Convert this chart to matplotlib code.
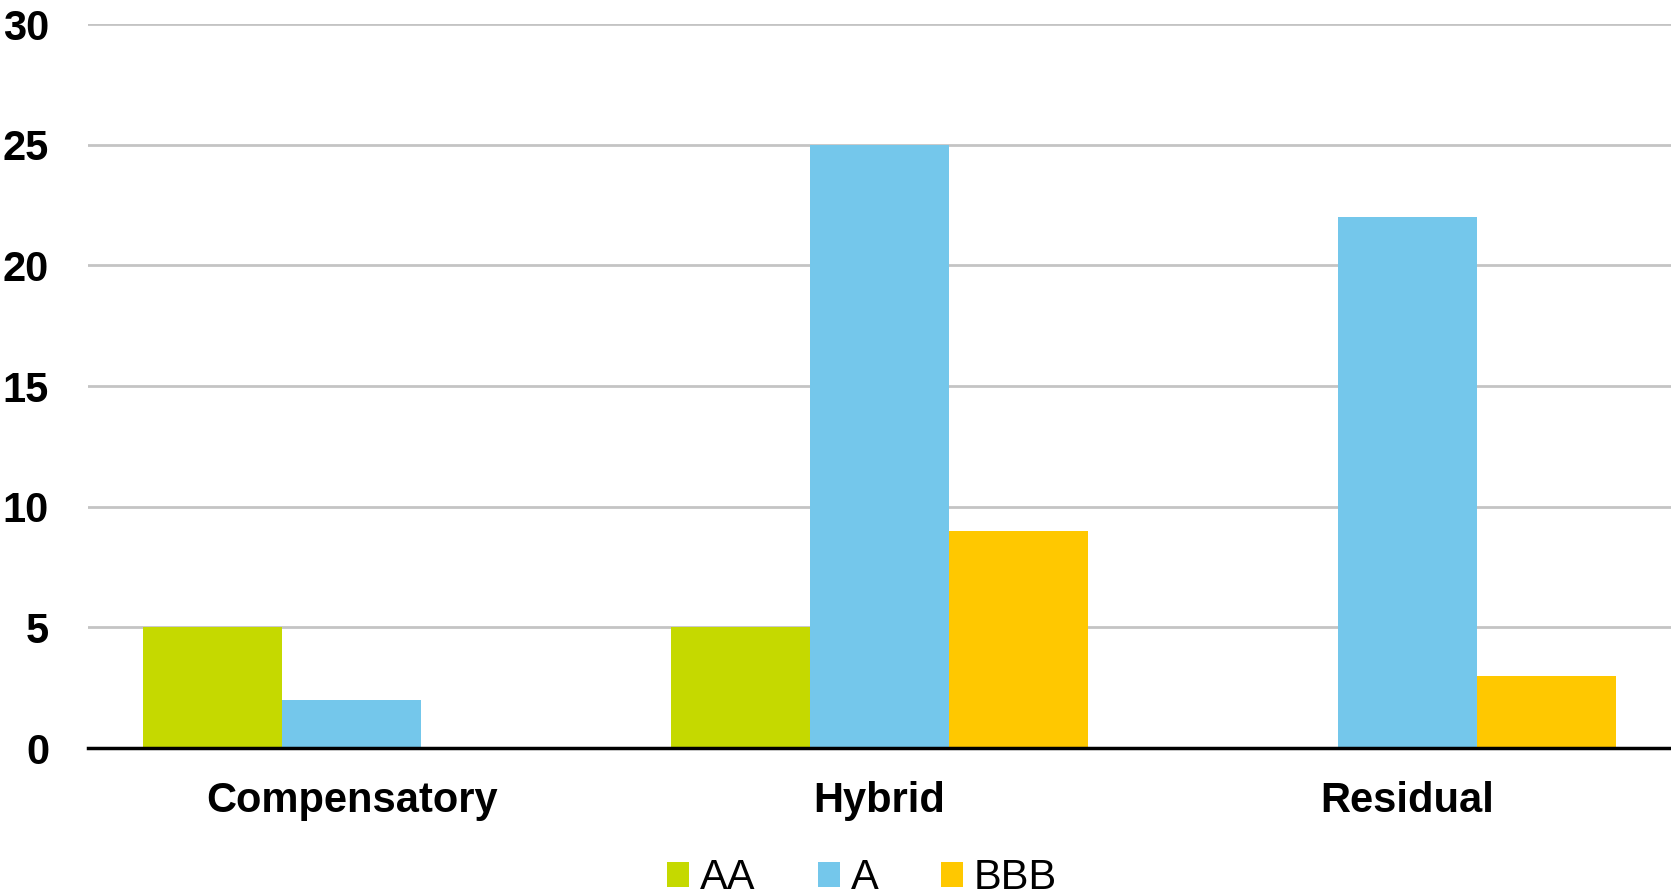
import matplotlib
matplotlib.use("Agg")
import matplotlib.pyplot as plt
import numpy as np

categories = ["Compensatory", "Hybrid", "Residual"]
series_names = ["AA", "A", "BBB"]
aa_values = [5, 5, 0]
a_values = [2, 25, 22]
bbb_values = [0, 9, 3]
y_ticks = [0, 5, 10, 15, 20, 25, 30]
colors = ["#c5d900", "#74c7eb", "#ffc800"]

plt.rcParams['font.family'] = ['Liberation Sans', 'DejaVu Sans']

fig = plt.figure(figsize=(16.71, 8.94), dpi=100)
W, H = 1671, 894
left, right = 88, 1671
top, bottom = 24, 748
ax = fig.add_axes([left / W, 1 - bottom / H, (right - left) / W, (bottom - top) / H])

x = np.arange(len(categories))
bw = 0.2633
data = [aa_values, a_values, bbb_values]
for i, (vals, name, c) in enumerate(zip(data, series_names, colors)):
    ax.bar(x + (i - 1) * bw, vals, width=bw, color=c, label=name, zorder=3)

ax.set_xlim(-0.5, 2.5)
ax.set_ylim(0, 30)
ax.set_yticks(y_ticks)
ax.set_yticklabels([str(t) for t in y_ticks], fontsize=30, fontweight='bold')
ax.set_xticks(x)
ax.set_xticklabels(categories, fontsize=30, fontweight='bold')
ax.tick_params(axis='y', length=0, pad=28)
ax.tick_params(axis='x', length=0, pad=24)

ax.yaxis.grid(True, color='#c4c4c4', linewidth=2, zorder=0)
ax.set_axisbelow(True)
for s in ['top', 'right', 'left']:
    ax.spines[s].set_visible(False)
ax.spines['bottom'].set_linewidth(2.5)
ax.spines['bottom'].set_color('black')
ax.spines['bottom'].set_zorder(4)

leg = fig.legend(loc='center', bbox_to_anchor=(862 / W, 1 - 878 / H), ncol=3,
                 frameon=False, fontsize=30, handlelength=0.53, handleheight=0.53,
                 handletextpad=0.26, columnspacing=1.5, borderpad=0, borderaxespad=0)

fig.savefig("out.png", dpi=100)
